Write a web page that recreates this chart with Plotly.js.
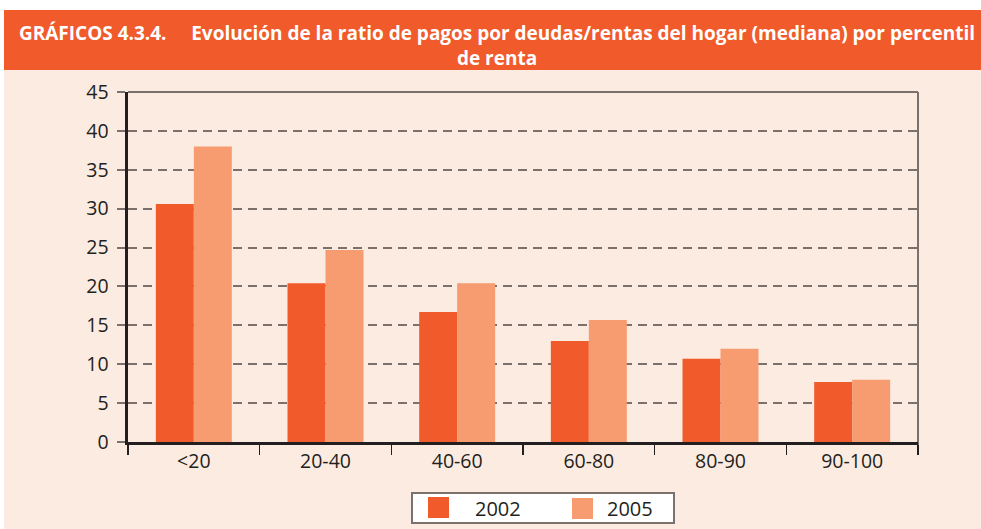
<!DOCTYPE html>
<html><head><meta charset="utf-8">
<script src="https://cdn.plot.ly/plotly-3.0.1.min.js"></script>
<style>html,body{margin:0;padding:0;background:#fff;}#chart{width:981px;height:529px;}</style>
</head><body><div id="chart"></div>
<script>
const categories = ['<20', '20-40', '40-60', '60-80', '80-90', '90-100'];
const seriesNames = ['2002', '2005'];
const values2002 = [30.6, 20.4, 16.7, 13.0, 10.7, 7.7];
const values2005 = [38.0, 24.7, 20.4, 15.7, 12.0, 8.0];
const yTicks = [0, 5, 10, 15, 20, 25, 30, 35, 40, 45];
const colors = ['#F15A2B', '#F79B70'];

const W = 981, H = 529;
const M = {l: 128, r: 63, t: 92, b: 87};
const pw = W - M.l - M.r, ph = H - M.t - M.b;
const px = x => (x - M.l) / pw;
const py = y => (H - M.b - y) / ph;

const traces = [values2002, values2005].map((v, i) => ({
  type: 'bar', x: categories, y: v, name: seriesNames[i],
  marker: {color: colors[i], line: {width: 0}}, showlegend: false, hoverinfo: 'skip'
}));

const shapes = [
  {type: 'rect', xref: 'paper', yref: 'paper', x0: px(4), x1: px(981), y0: py(70), y1: py(529), fillcolor: '#FCEBE1', line: {width: 0}, layer: 'below'},
  {type: 'rect', xref: 'paper', yref: 'paper', x0: px(4), x1: px(981), y0: py(10), y1: py(70), fillcolor: '#F15A2B', line: {width: 0}, layer: 'below'},
  {type: 'line', xref: 'paper', yref: 'paper', x0: 0, x1: 1, y0: 1, y1: 1, line: {color: '#7A706C', width: 2}, layer: 'below'},
  {type: 'line', xref: 'paper', yref: 'paper', x0: 1, x1: 1, y0: py(453), y1: 1, line: {color: '#7A706C', width: 2}, layer: 'below'},
  // legend box
  {type: 'rect', xref: 'paper', yref: 'paper', x0: px(412), x1: px(674), y0: py(523), y1: py(493), fillcolor: '#FFFFFF', line: {color: '#7A706C', width: 2}},
  {type: 'rect', xref: 'paper', yref: 'paper', x0: px(428), x1: px(449), y0: py(518), y1: py(497), fillcolor: colors[0], line: {width: 0}},
  {type: 'rect', xref: 'paper', yref: 'paper', x0: px(572), x1: px(593), y0: py(519), y1: py(498), fillcolor: colors[1], line: {width: 0}}
];

const annotations = [
  {xref: 'paper', yref: 'paper', x: px(473), y: py(508), xanchor: 'left', yanchor: 'middle', text: seriesNames[0], showarrow: false, font: {family: 'Open Sans, sans-serif', size: 20, color: '#231F20'}},
  {xref: 'paper', yref: 'paper', x: px(605), y: py(508), xanchor: 'left', yanchor: 'middle', text: seriesNames[1], showarrow: false, font: {family: 'Open Sans, sans-serif', size: 20, color: '#231F20'}}
];

const layout = {
  width: W, height: H, margin: M,
  paper_bgcolor: '#FFFFFF', plot_bgcolor: 'rgba(0,0,0,0)',
  barmode: 'group', bargap: 0.423, bargroupgap: 0,
  title: {
    text: '<b>GRÁFICOS 4.3.4.&nbsp;&nbsp;&nbsp;&nbsp; Evolución de la ratio de pagos por deudas/rentas del hogar (mediana) por percentil<br>de renta</b>',
    font: {family: 'Open Sans, sans-serif', size: 19, color: '#FFFFFF'},
    xref: 'container', x: 497 / W, xanchor: 'center',
    yref: 'container', y: 1 - 40 / H, yanchor: 'middle'
  },
  font: {family: 'Open Sans, sans-serif', color: '#231F20'},
  xaxis: {
    type: 'category', showgrid: false, tickson: 'boundaries', ticks: 'outside', ticklen: 10,
    tickcolor: '#231F20', tickwidth: 1.5, showline: true, linecolor: '#231F20', linewidth: 3,
    tickfont: {size: 19.5, color: '#231F20'}, zeroline: false, fixedrange: true
  },
  yaxis: {
    range: [0, 45], tickvals: yTicks, ticktext: yTicks.map(String), ticks: 'outside', ticklen: 8,
    tickcolor: '#7A706C', tickwidth: 2, showline: true, linecolor: '#231F20', linewidth: 3.5,
    showgrid: true, gridcolor: '#7A706C', gridwidth: 2, griddash: '9px,6px', zeroline: false,
    tickfont: {size: 19.5, color: '#231F20'}, ticklabelstandoff: 4, fixedrange: true
  },
  shapes: shapes, annotations: annotations, showlegend: false
};

Plotly.newPlot('chart', traces, layout, {displayModeBar: false, staticPlot: true});
</script></body></html>
